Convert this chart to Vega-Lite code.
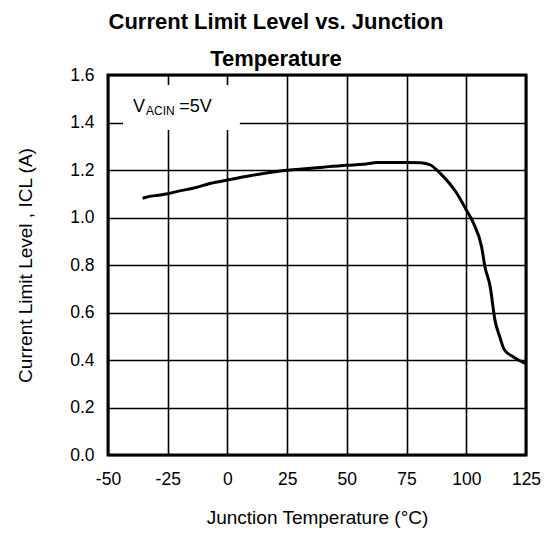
{
  "$schema": "https://vega.github.io/schema/vega-lite/v6.json",
  "width": 418,
  "height": 380,
  "autosize": {"type": "none"},
  "padding": {"left": 108, "top": 75, "right": 25, "bottom": 78},
  "background": "white",
  "title": {
    "text": ["Current Limit Level vs. Junction", "Temperature"],
    "font": "Liberation Sans",
    "fontSize": 22,
    "fontWeight": "bold",
    "lineHeight": 37,
    "anchor": "middle",
    "dx": -41,
    "offset": -5,
    "color": "black"
  },
  "config": {
    "view": {"stroke": "black", "strokeWidth": 3},
    "axis": {
      "labelFont": "Liberation Sans",
      "titleFont": "Liberation Sans",
      "labelFontSize": 17.5,
      "titleFontSize": 19,
      "titleFontWeight": "normal",
      "labelColor": "black",
      "titleColor": "black",
      "grid": true,
      "gridColor": "black",
      "gridWidth": 1.6,
      "gridOpacity": 1,
      "ticks": false,
      "domain": false,
      "labelFlush": false,
      "labelPadding": 14
    }
  },
  "layer": [
    {
      "data": {"values": [{"x1": -43.7, "x2": 5.2, "y1": 1.368, "y2": 1.558}]},
      "mark": {"type": "rect", "fill": "white", "stroke": null},
      "encoding": {
        "x": {"field": "x1", "type": "quantitative", "scale": {"domain": [-50, 125]}},
        "x2": {"field": "x2"},
        "y": {"field": "y1", "type": "quantitative", "scale": {"domain": [0, 1.6]}},
        "y2": {"field": "y2"}
      }
    },
    {
      "data": {"values": [
        {"t": -35.5, "i": 1.081}, {"t": -32, "i": 1.09}, {"t": -28, "i": 1.095}, {"t": -25, "i": 1.1},
        {"t": -20, "i": 1.112}, {"t": -14, "i": 1.124}, {"t": -7, "i": 1.144}, {"t": 0, "i": 1.158},
        {"t": 10, "i": 1.177}, {"t": 20, "i": 1.193}, {"t": 30, "i": 1.203}, {"t": 40, "i": 1.212},
        {"t": 50, "i": 1.22}, {"t": 57, "i": 1.224}, {"t": 63, "i": 1.232}, {"t": 75, "i": 1.232},
        {"t": 81, "i": 1.231}, {"t": 85, "i": 1.221}, {"t": 89, "i": 1.187}, {"t": 93, "i": 1.143},
        {"t": 96, "i": 1.102}, {"t": 100, "i": 1.032}, {"t": 103, "i": 0.976}, {"t": 106.4, "i": 0.877},
        {"t": 107.8, "i": 0.793}, {"t": 110, "i": 0.709}, {"t": 112, "i": 0.568}, {"t": 114, "i": 0.498},
        {"t": 116, "i": 0.442}, {"t": 119.6, "i": 0.414}, {"t": 123.8, "i": 0.39}, {"t": 125, "i": 0.385}
      ]},
      "mark": {"type": "line", "color": "black", "strokeWidth": 3, "interpolate": "monotone", "clip": true},
      "encoding": {
        "x": {
          "field": "t", "type": "quantitative",
          "scale": {"domain": [-50, 125], "nice": false, "zero": false},
          "axis": {"values": [-50, -25, 0, 25, 50, 75, 100, 125], "labelExpr": "'' + datum.value", "title": "Junction Temperature (°C)", "titlePadding": 21, "labelPadding": 15}
        },
        "y": {
          "field": "i", "type": "quantitative",
          "scale": {"domain": [0, 1.6], "nice": false},
          "axis": {"values": [0, 0.2, 0.4, 0.6, 0.8, 1.0, 1.2, 1.4, 1.6], "format": ".1f", "title": "Current Limit Level , ICL (A)", "titlePadding": 34}
        }
      }
    },
    {
      "data": {"values": [
        {"x": -39.5, "y": 1.467, "s": "V", "k": "big"},
        {"x": -34.1, "y": 1.448, "s": "ACIN", "k": "small"},
        {"x": -20.2, "y": 1.467, "s": "=5V", "k": "big"}
      ]},
      "mark": {"type": "text", "font": "Liberation Sans", "align": "left", "baseline": "middle", "color": "black"},
      "encoding": {
        "x": {"field": "x", "type": "quantitative"},
        "y": {"field": "y", "type": "quantitative"},
        "text": {"field": "s"},
        "size": {"field": "k", "type": "nominal", "scale": {"domain": ["big", "small"], "range": [18, 12]}, "legend": null}
      }
    }
  ]
}
